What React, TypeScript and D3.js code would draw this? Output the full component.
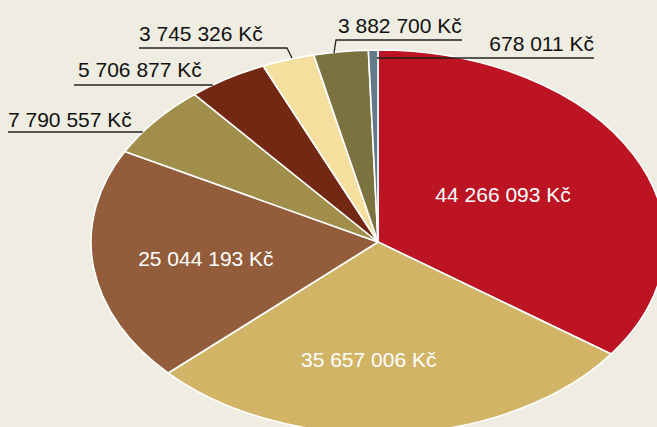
import React from "react";
import * as d3 from "d3";

const labels = [
  "44 266 093 Kč",
  "35 657 006 Kč",
  "25 044 193 Kč",
  "7 790 557 Kč",
  "5 706 877 Kč",
  "3 745 326 Kč",
  "3 882 700 Kč",
  "678 011 Kč",
];
const values = [44266093, 35657006, 25044193, 7790557, 5706877, 3745326, 3882700, 678011];
const colors = ["#BC1422", "#D2B467", "#935D3C", "#A08E4A", "#732814", "#F4DF9E", "#7A733F", "#637B89"];

const W = 657;
const H = 427;
const CX = 378;
const CY = 242;
const RX = 287;
const RY = 192;
const FONT = "'Liberation Sans', Arial, Helvetica, sans-serif";

// inner label placement: [angle offset (deg), radius fraction]
const innerLayout: Record<number, [number, number]> = {
  0: [-2.2, 0.5],
  1: [6.7, 0.613],
  2: [-0.8, 0.606],
};

type Out = { i: number; tx: number; ty: number; anchor: string; ly: number; x0: number; x1?: number; elbow?: [number, number]; elbowAt?: "start" | "end" };
const outLayout: Out[] = [
  { i: 3, tx: 8, ty: 127, anchor: "start", ly: 132, x0: 8 },
  { i: 4, tx: 78, ty: 77, anchor: "start", ly: 85, x0: 74 },
  { i: 5, tx: 139, ty: 41, anchor: "start", ly: 48, x0: 139, x1: 287, elbow: [292, 58], elbowAt: "end" },
  { i: 6, tx: 338, ty: 33, anchor: "start", ly: 40, x0: 336, x1: 462, elbow: [334, 53], elbowAt: "start" },
  { i: 7, tx: 594, ty: 51, anchor: "end", ly: 58, x0: 377, x1: 594 },
];

function edgeLeftX(y: number) {
  const t = (y - CY) / RY;
  return CX - RX * Math.sqrt(Math.max(0, 1 - t * t));
}

export default function App() {
  const pie = d3.pie<number>().sort(null).value((d) => d);
  const arcs = pie(values);
  const arc = d3.arc<d3.PieArcDatum<number>>().innerRadius(0).outerRadius(RX);
  const sy = RY / RX;

  return (
    <svg width={W} height={H} style={{ position: "absolute", left: 0, top: 0, display: "block" }}>
      <rect width={W} height={H} fill="#EFEDE2" />
      <g transform={`translate(${CX},${CY}) scale(1,${sy})`}>
        {arcs.map((a, i) => (
          <path
            key={i}
            d={arc(a) || ""}
            fill={colors[i]}
            stroke="#fff"
            strokeWidth={1.6}
            vectorEffect="non-scaling-stroke"
            strokeLinejoin="round"
          />
        ))}
      </g>
      {arcs.map((a, i) => {
        const lay = innerLayout[i];
        if (!lay) return null;
        const mid = (a.startAngle + a.endAngle) / 2 + (lay[0] * Math.PI) / 180;
        const r = RX * lay[1];
        const x = CX + Math.sin(mid) * r;
        const y = CY - Math.cos(mid) * r * sy;
        return (
          <text key={i} x={x} y={y} dy="0.35em" textAnchor="middle" fill="#fff" fontFamily={FONT} fontSize={21}>
            {labels[i]}
          </text>
        );
      })}
      {outLayout.map((o) => {
        const xEnd = o.x1 !== undefined ? o.x1 : edgeLeftX(o.ly);
        let pts: [number, number][] = [
          [o.x0, o.ly],
          [xEnd, o.ly],
        ];
        if (o.elbow && o.elbowAt === "end") pts.push(o.elbow);
        if (o.elbow && o.elbowAt === "start") pts = [o.elbow, ...pts];
        return (
          <g key={o.i}>
            <path d={d3.line()(pts) || ""} fill="none" stroke="#222" strokeWidth={1.3} />
            <text x={o.tx} y={o.ty} textAnchor={o.anchor} fill="#111" fontFamily={FONT} fontSize={21}>
              {labels[o.i]}
            </text>
          </g>
        );
      })}
    </svg>
  );
}
